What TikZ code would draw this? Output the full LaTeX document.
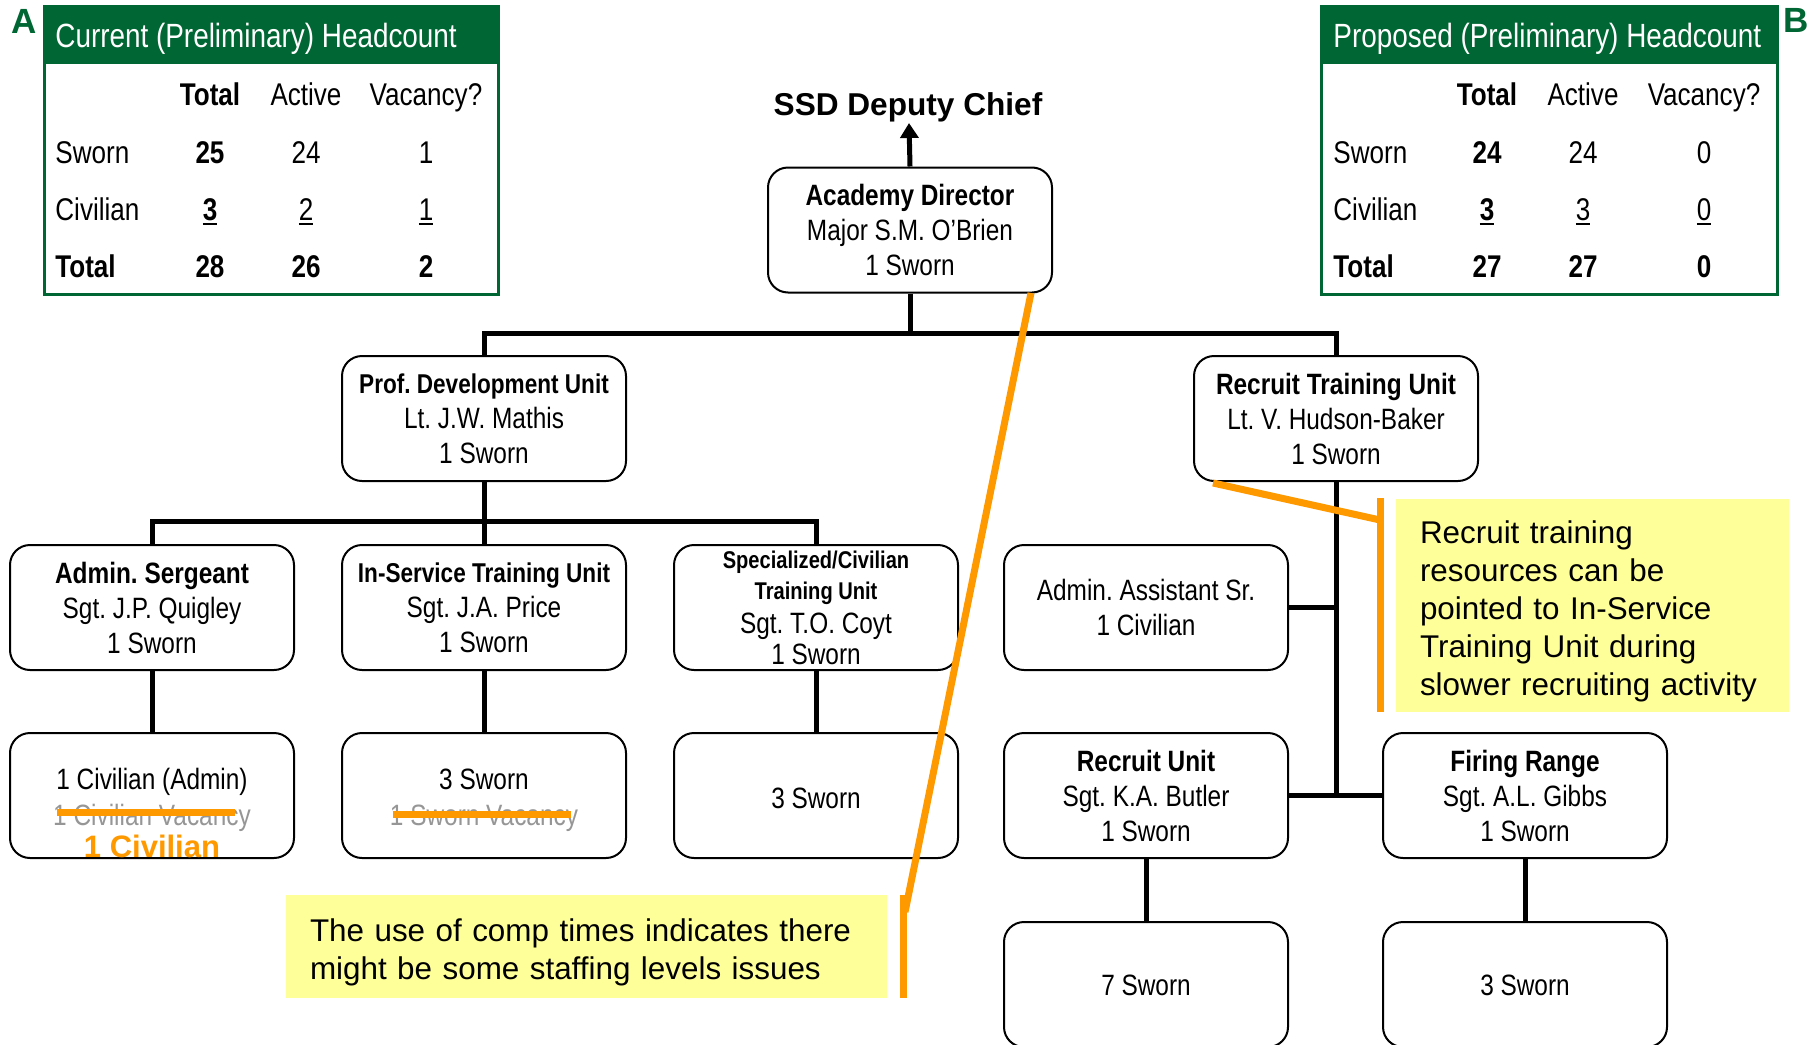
\documentclass[tikz,border=0pt]{standalone}
\usepackage{fontspec}
\usetikzlibrary{arrows.meta}
\setmainfont{Liberation Sans}
\newfontfamily\narrow[FakeStretch=0.83]{Liberation Sans}
\frenchspacing
\definecolor{hdgreen}{RGB}{0,102,51}
\definecolor{accent}{RGB}{255,153,0}
\definecolor{notefill}{RGB}{255,255,153}
\definecolor{struck}{RGB}{150,150,150}
% thick underline for the civilian counts
\newcommand\ulnum[1]{\setbox0\hbox{#1}\rlap{\rule[-2.6pt]{\wd0}{1pt}}\box0}

\tikzset{
  box/.style={draw, line width=1pt, rounded corners=10pt, fill=white,
    minimum width=142pt, minimum height=62.5pt, inner sep=0pt,
    align=center, font=\narrow\fontsize{14.7}{17.5}\selectfont},
  link/.style={line width=2.5pt},
  lead/.style={draw=accent, line width=3.5pt},
  notebox/.style={fill=notefill, inner sep=0pt},
  notetext/.style={inner sep=0pt, align=left, font=\fontsize{15.7}{19}\selectfont},
  cell/.style={anchor=base, inner sep=0pt, font=\narrow\fontsize{15.7}{15.7}\selectfont},
  rowlabel/.style={cell, anchor=base west},
  title/.style={anchor=base west, inner sep=0pt, text=white,
    font=\narrow\fontsize{16.8}{16.8}\selectfont},
  tag/.style={inner sep=0pt, text=hdgreen, font=\bfseries\fontsize{17.5}{17.5}\selectfont},
  inner/.style={anchor=base, inner sep=0pt, font=\narrow\fontsize{14.7}{14.7}\selectfont},
}

\begin{document}
\frenchspacing
\begin{tikzpicture}[x=0.5pt,y=-0.5pt]
\useasboundingbox (0,0) rectangle (1818,1044);
\clip (0,0) rectangle (1818,1044);
\fill[white] (0,0) rectangle (1818,1044);

% ---------- headcount table A ----------
\draw[hdgreen, line width=1.5pt] (44,6) rectangle (498,294);
\fill[hdgreen] (44,6) rectangle (498,64);
\node[tag] (tagA) at (24,21) {A};
\node[title] (titleA) at (55,47) {Current (Preliminary) Headcount};
\node[cell] (aHt) at (210,105) {\bfseries Total};
\node[cell] (aHa) at (306,105) {Active};
\node[cell] (aHv) at (426,105) {Vacancy?};
\node[rowlabel] (aR1) at (55,163) {Sworn};
\node[cell] (aR1t) at (210,163) {\bfseries 25};
\node[cell] (aR1a) at (306,163) {24};
\node[cell] (aR1v) at (426,163) {1};
\node[rowlabel] (aR2) at (55,220) {Civilian};
\node[cell] (aR2t) at (210,220) {\bfseries\ulnum{3}};
\node[cell] (aR2a) at (306,220) {\ulnum{2}};
\node[cell] (aR2v) at (426,220) {\ulnum{1}};
\node[rowlabel] (aR3) at (55,277) {\bfseries Total};
\node[cell] (aR3t) at (210,277) {\bfseries 28};
\node[cell] (aR3a) at (306,277) {\bfseries 26};
\node[cell] (aR3v) at (426,277) {\bfseries 2};

% ---------- headcount table B ----------
\draw[hdgreen, line width=1.5pt] (1321,6) rectangle (1777,294);
\fill[hdgreen] (1321,6) rectangle (1777,64);
\node[tag] (tagB) at (1796,20) {B};
\node[title] (titleB) at (1333,47) {Proposed (Preliminary) Headcount};
\node[cell] (bHt) at (1487,105) {\bfseries Total};
\node[cell] (bHa) at (1583,105) {Active};
\node[cell] (bHv) at (1704,105) {Vacancy?};
\node[rowlabel] (bR1) at (1333,163) {Sworn};
\node[cell] (bR1t) at (1487,163) {\bfseries 24};
\node[cell] (bR1a) at (1583,163) {24};
\node[cell] (bR1v) at (1704,163) {0};
\node[rowlabel] (bR2) at (1333,220) {Civilian};
\node[cell] (bR2t) at (1487,220) {\bfseries\ulnum{3}};
\node[cell] (bR2a) at (1583,220) {\ulnum{3}};
\node[cell] (bR2v) at (1704,220) {\ulnum{0}};
\node[rowlabel] (bR3) at (1333,277) {\bfseries Total};
\node[cell] (bR3t) at (1487,277) {\bfseries 27};
\node[cell] (bR3a) at (1583,277) {\bfseries 27};
\node[cell] (bR3v) at (1704,277) {\bfseries 0};

% ---------- organisation boxes ----------
\node[anchor=base, inner sep=0pt, font=\bfseries\fontsize{15.8}{15.8}\selectfont]
  (chief) at (908,115) {SSD Deputy Chief};
\coordinate (chiefin) at (909,123);

\node[box] (acad) at (910,230) {\bfseries Academy Director\\Major S.M. O’Brien\\1 Sworn};

\node[box] (pdu) at (484,418.5) {{\bfseries\fontsize{13.6}{17.5}\selectfont Prof. Development Unit}\\Lt. J.W. Mathis\\1 Sworn};
\node[box] (rtu) at (1336,418.5) {\bfseries Recruit Training Unit\\Lt. V. Hudson-Baker\\1 Sworn};

\node[box] (adms) at (152,607.5) {\bfseries Admin. Sergeant\\Sgt. J.P. Quigley\\1 Sworn};
\node[box] (inserv) at (484,607.5) {{\bfseries\fontsize{13.6}{17.5}\selectfont In-Service Training Unit}\\Sgt. J.A. Price\\1 Sworn};
\node[box, font=\narrow\fontsize{14.7}{15.5}\selectfont] (spec) at (816,607.5)
  {{\bfseries\fontsize{12.1}{15.5}\selectfont Specialized/Civilian}\\{\bfseries\fontsize{12.1}{15.5}\selectfont Training Unit}\\[1.5pt]Sgt. T.O. Coyt\\1 Sworn};
\node[box] (aas) at (1146,607.5) {Admin. Assistant Sr.\\1 Civilian};

\node[box] (civ) at (152,795.5) {};
\node[box] (insw) at (484,795.5) {};
\node[box] (specsw) at (816,795.5) {};
\node[box] (recu) at (1146,795.5) {\bfseries Recruit Unit\\Sgt. K.A. Butler\\1 Sworn};
\node[box] (fire) at (1525,795.5) {\bfseries Firing Range\\Sgt. A.L. Gibbs\\1 Sworn};

\node[box] (recsw) at (1146,984.5) {};
\node[box] (firesw) at (1525,984.5) {};

% texts of the lower boxes
\node[inner] (civt1) at (152,789) {1 Civilian (Admin)};
\node[inner, text=struck] (civt2) at (152,825) {1 Civilian Vacancy};
\node[anchor=base, inner sep=0pt, text=accent, font=\bfseries\fontsize{15.5}{15.5}\selectfont]
  (civt3) at (152,857) {1 Civilian};
\node[inner] (inswt1) at (484,789) {3 Sworn};
\node[inner, text=struck] (inswt2) at (484,825) {1 Sworn Vacancy};
\node[inner] (specswt) at (816,808) {3 Sworn};
\node[inner] (recswt) at (1146,995) {7 Sworn};
\node[inner] (fireswt) at (1525,995) {3 Sworn};

% strike-outs
\draw[lead] (civt2.west |- 0,812) ++(4,0) -- (235,812);
\draw[lead] (inswt2.west |- 0,814) ++(3,0) -- (571,814);

% ---------- connectors ----------
\draw[link, -{Triangle[width=9pt,length=7.5pt]}] (acad.north) -- (chiefin);
\draw[link] (acad.south) -- ++(0,41);
\draw[link] (pdu.north) -- ++(0,-22) -| (rtu.north);

\draw[link] (pdu.south) -- ++(0,41);
\draw[link] (adms.north) -- ++(0,-23) -| (spec.north);
\draw[link] (inserv.north) -- ++(0,-23);

\draw[link] (adms.south) -- (civ.north);
\draw[link] (inserv.south) -- (insw.north);
\draw[link] (spec.south) -- (specsw.north);

\draw[link] (rtu.south) -- (rtu.south |- recu.east);
\draw[link] (aas.east) -- (aas.east -| rtu.south);
\draw[link] (recu.east) -- (fire.west);
\draw[link] (recu.south) -- (recsw.north);
\draw[link] (fire.south) -- (firesw.north);

% ---------- notes ----------
\node[notebox, minimum width=300.5pt, minimum height=51.5pt] (note1) at (586.5,946.5) {};
\node[notetext, text width=276.5pt] (note1txt) at (586.5,952)
  {The use of comp times indicates there\\might be some staffing levels issues};
\node[notebox, minimum width=196.5pt, minimum height=106.5pt] (note2) at (1592.5,605.5) {};
\node[notetext, text width=172.5pt] (note2txt) at (1592.5,611.5)
  {Recruit training\\resources can be\\pointed to In-Service\\Training Unit during\\slower recruiting activity};

\coordinate (bar1top) at (903,895);
\coordinate (bar1bot) at (903,998);
\coordinate (from1) at (1031,293);
\coordinate (to1) at (905,912);
\draw[lead] (bar1top) -- (bar1bot);
\draw[lead] (from1) -- (to1);

\coordinate (bar2top) at (1380,498);
\coordinate (bar2bot) at (1380,712);
\coordinate (from2) at (1213,483);
\coordinate (to2) at (1380,520);
\draw[lead] (bar2top) -- (bar2bot);
\draw[lead] (from2) -- (to2);
\end{tikzpicture}
\end{document}
